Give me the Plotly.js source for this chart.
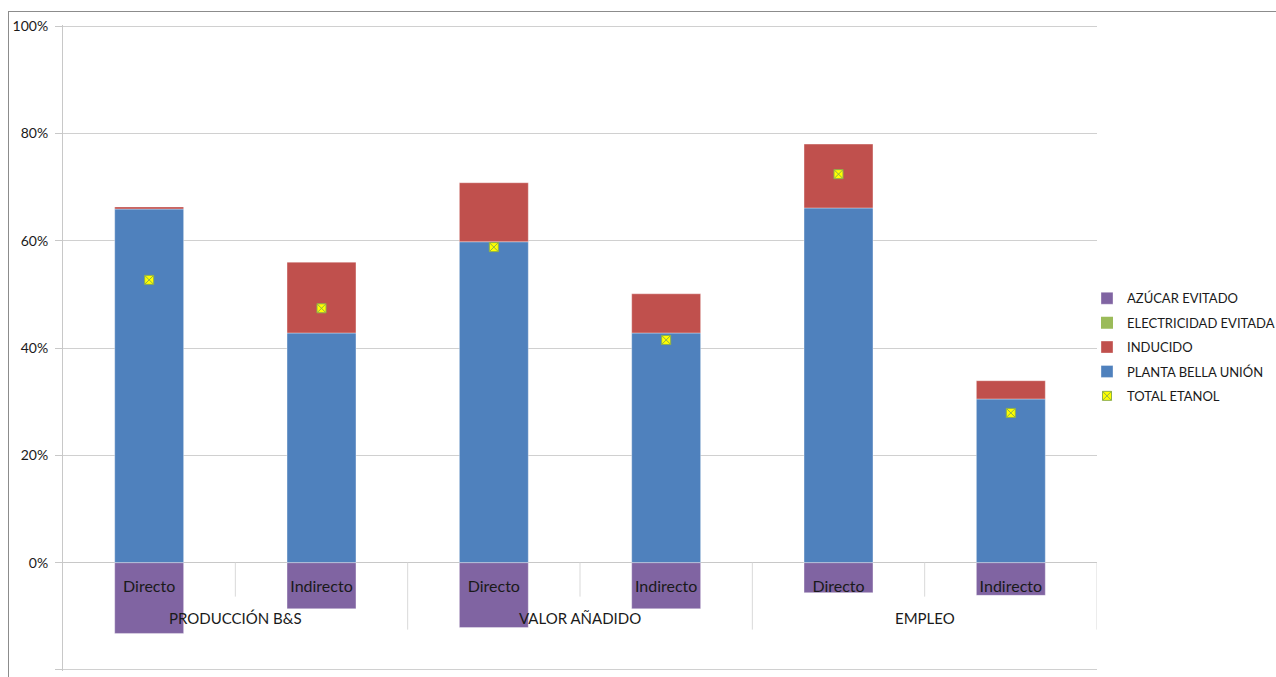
<!DOCTYPE html>
<html>
<head>
<meta charset="utf-8">
<script src="https://cdn.plot.ly/plotly-3.0.1.min.js"></script>
<style>
  html, body { margin: 0; padding: 0; background: #fff; }
  #chart { width: 1276px; height: 677px; }
  #frame { position: absolute; left: 8px; top: 11px; width: 1300px; height: 700px;
           border-left: 1px solid #8c8c8c; border-top: 1px solid #8c8c8c; pointer-events: none; }
</style>
</head>
<body>
<div id="chart"></div>
<div id="frame"></div>
<script>
// Categories
const groups = ["PRODUCCIÓN B&S", "PRODUCCIÓN B&S", "VALOR AÑADIDO", "VALOR AÑADIDO", "EMPLEO", "EMPLEO"];
const subs = ["Directo", "Indirecto", "Directo", "Indirecto", "Directo", "Indirecto"];

// Series values (%)
const azucarEvitado = [-13.2, -8.6, -12.1, -8.6, -5.6, -6.1];
const electricidadEvitada = [0, 0, 0, 0, 0, 0];
const plantaBellaUnion = [65.9, 42.8, 59.8, 42.8, 66.1, 30.5];
const inducido = [0.4, 13.2, 11.0, 7.3, 11.9, 3.4];
const totalEtanol = [52.7, 47.4, 58.8, 41.5, 72.4, 27.9];

const yTicks = [-20, 0, 20, 40, 60, 80, 100];
const yTickText = ["-20%", "0%", "20%", "40%", "60%", "80%", "100%"];

// category positions on the axis (one slot per category)
const idx = subs.map((_, i) => i);
const barLine = { color: "rgba(255,255,255,0.35)", width: 1 };

const traces = [
  { type: "bar", name: "AZÚCAR EVITADO", x: idx, y: azucarEvitado, legendrank: 1, legendgroup: "a",
    marker: { color: "#8064A2", line: barLine } },
  { type: "bar", name: "ELECTRICIDAD EVITADA", x: idx, y: electricidadEvitada, legendrank: 2, legendgroup: "b",
    marker: { color: "#9BBB59", line: { width: 0 } } },
  { type: "bar", name: "PLANTA BELLA UNIÓN", x: idx, y: plantaBellaUnion, legendrank: 4, legendgroup: "d",
    marker: { color: "#4F81BD", line: barLine } },
  { type: "bar", name: "INDUCIDO", x: idx, y: inducido, legendrank: 3, legendgroup: "c",
    marker: { color: "#C0504D", line: barLine } },
  { type: "scatter", mode: "markers", name: "TOTAL ETANOL", x: idx, y: totalEtanol, legendrank: 5, legendgroup: "e",
    marker: { symbol: "square-x", size: 9, color: "#FFFF00", line: { color: "#8FB04A", width: 1 } } }
];

const yMin = -20.2, yMax = 100.2;
const zeroPos = (0 - yMin) / (yMax - yMin);

// group labels (annotations) and category dividers (shapes), derived from the arrays
const groupNames = [...new Set(groups)];
const annotations = groupNames.map(g => {
  const ii = idx.filter(i => groups[i] === g);
  const mid = ii.reduce((s, v) => s + v, 0) / ii.length;
  return { x: mid, y: 0, xref: "x", yref: "y", text: g, showarrow: false,
           yanchor: "middle", yshift: -55, font: { size: 15, color: "#1a1a1a" } };
});
const shapes = [];
for (let b = 1; b <= subs.length; b++) {
  const isGroupEdge = b === subs.length || groups[b] !== groups[b - 1];
  shapes.push({ type: "line", xref: "x", yref: "y", x0: b - 0.5, x1: b - 0.5,
                ysizemode: "pixel", yanchor: 0, y0: 0, y1: isGroupEdge ? -67 : -34,
                line: { color: "#d9d9d9", width: 1 }, layer: "above" });
}

const layout = {
  width: 1276, height: 677,
  margin: { l: 63, r: 179, t: 25, b: 6, autoexpand: false },
  paper_bgcolor: "rgba(0,0,0,0)",
  plot_bgcolor: "#fff",
  barmode: "relative",
  bargap: 0.6,
  showlegend: true,
  font: { family: "Lato, 'Open Sans', sans-serif", color: "#1a1a1a" },
  legend: {
    xref: "container", yref: "container",
    x: 1087 / 1276, y: 0.487, xanchor: "left", yanchor: "middle",
    traceorder: "grouped",
    tracegroupgap: 4.5,
    font: { size: 13, color: "#1a1a1a" },
    itemwidth: 30,
    bgcolor: "rgba(0,0,0,0)"
  },
  xaxis: {
    range: [-0.5, subs.length - 0.5],
    anchor: "free",
    position: zeroPos,
    tickvals: idx,
    ticktext: subs,
    showline: false,
    showgrid: false,
    zeroline: false,
    ticks: "",
    ticklabelstandoff: 12,
    tickfont: { size: 16, color: "#1a1a1a" },
    layer: "above traces"
  },
  yaxis: {
    range: [yMin, yMax],
    tickvals: yTicks,
    ticktext: yTickText,
    showgrid: true,
    gridcolor: "#d0d0d0",
    gridwidth: 1,
    zeroline: true,
    zerolinecolor: "#c8c8c8",
    zerolinewidth: 1,
    showline: true,
    linecolor: "#c8c8c8",
    ticks: "outside",
    ticklen: 7,
    tickcolor: "#c8c8c8",
    tickfont: { size: 14, color: "#1a1a1a" },
    ticklabelstandoff: 4
  },
  annotations: annotations,
  shapes: shapes
};

Plotly.newPlot("chart", traces, layout, { displayModeBar: false, staticPlot: true });
</script>
</body>
</html>
